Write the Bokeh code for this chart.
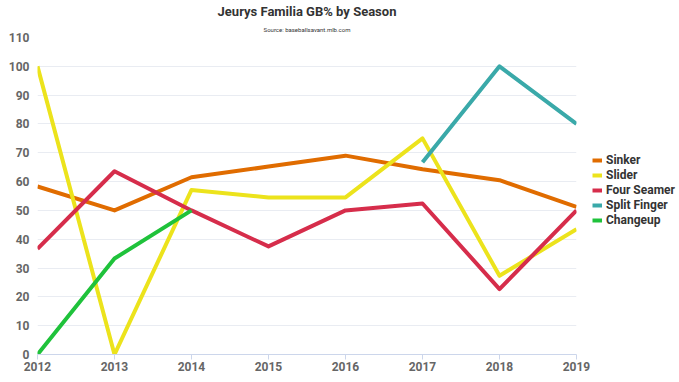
from bokeh.plotting import figure
from bokeh.models import Range1d, Legend, LegendItem, Title, FixedTicker
from bokeh.embed import file_html
from bokeh.resources import INLINE

years = [2012, 2013, 2014, 2015, 2016, 2017, 2018, 2019]
sinker = [58.3, 50.0, 61.5, 65.2, 69.0, 64.3, 60.5, 51.2]
slider = [100.0, 0.0, 57.1, 54.5, 54.5, 75.0, 27.3, 43.5]
four_seamer = [36.7, 63.6, 50.0, 37.5, 50.0, 52.4, 22.7, 50.0]
split_years = [2017, 2018, 2019]
split_finger = [66.7, 100.0, 80.0]
change_years = [2012, 2013, 2014]
changeup = [0.0, 33.3, 50.0]
y_ticks = [0, 10, 20, 30, 40, 50, 60, 70, 80, 90, 100, 110]

FONT = "Roboto"
p = figure(frame_width=539, frame_height=317, output_backend="svg", toolbar_location=None,
           x_range=Range1d(2012, 2019), y_range=Range1d(0, 110),
           min_border_left=37, min_border_top=0, min_border_bottom=20, min_border_right=10)
p.outline_line_color = None
p.background_fill_color = "white"

series = [
    ("Sinker", years, sinker, "#e06c00"),
    ("Slider", years, slider, "#ece31c"),
    ("Four Seamer", years, four_seamer, "#d62d4b"),
    ("Split Finger", split_years, split_finger, "#3aa9a9"),
    ("Changeup", change_years, changeup, "#1fc23b"),
]
items = []
for name, xs, ys, col in series:
    r = p.line(xs, ys, line_color=col, line_width=4, line_join="round")
    items.append(LegendItem(label=name, renderers=[r]))

p.xaxis.ticker = FixedTicker(ticks=years)
p.yaxis.ticker = FixedTicker(ticks=y_ticks)
p.xgrid.grid_line_color = None
p.ygrid.grid_line_color = "#e9ecf2"
p.ygrid.grid_line_width = 1

p.yaxis.axis_line_color = None
p.yaxis.major_tick_line_color = None
p.yaxis.minor_tick_line_color = None
p.yaxis.major_tick_out = 0
p.yaxis.major_label_standoff = 8
p.xaxis.axis_line_color = "#ccd6eb"
p.xaxis.major_tick_line_color = "#ccd6eb"
p.xaxis.minor_tick_line_color = None
p.xaxis.major_tick_out = 5
p.xaxis.major_tick_in = 0
p.xaxis.major_label_standoff = 2
for ax in (p.xaxis, p.yaxis):
    ax.major_label_text_font = FONT
    ax.major_label_text_font_style = "bold"
    ax.major_label_text_font_size = "12px"
    ax.major_label_text_color = "#666666"

legend = Legend(items=items, location=(16, 127), border_line_color=None,
                background_fill_alpha=0, label_text_font=FONT, label_text_font_style="bold",
                label_text_font_size="12px", label_text_color="#333333",
                glyph_width=10, glyph_height=14, label_height=14, spacing=1,
                padding=0, margin=0, label_standoff=4)
p.add_layout(legend, "right")

sub = Title(text="Source: baseballsavant.mlb.com", align="center", text_font=FONT,
            text_font_size="6px", text_color="#333333", text_font_style="normal", offset=33,
            standoff=9)
p.add_layout(sub, "above")
title = Title(text="Jeurys Familia GB% by Season", align="center", text_font=FONT,
              text_font_size="13px", text_color="#333333", text_font_style="bold", offset=33,
              standoff=2)
p.add_layout(title, "above")

open("out.html", "w").write(file_html(p, INLINE))
